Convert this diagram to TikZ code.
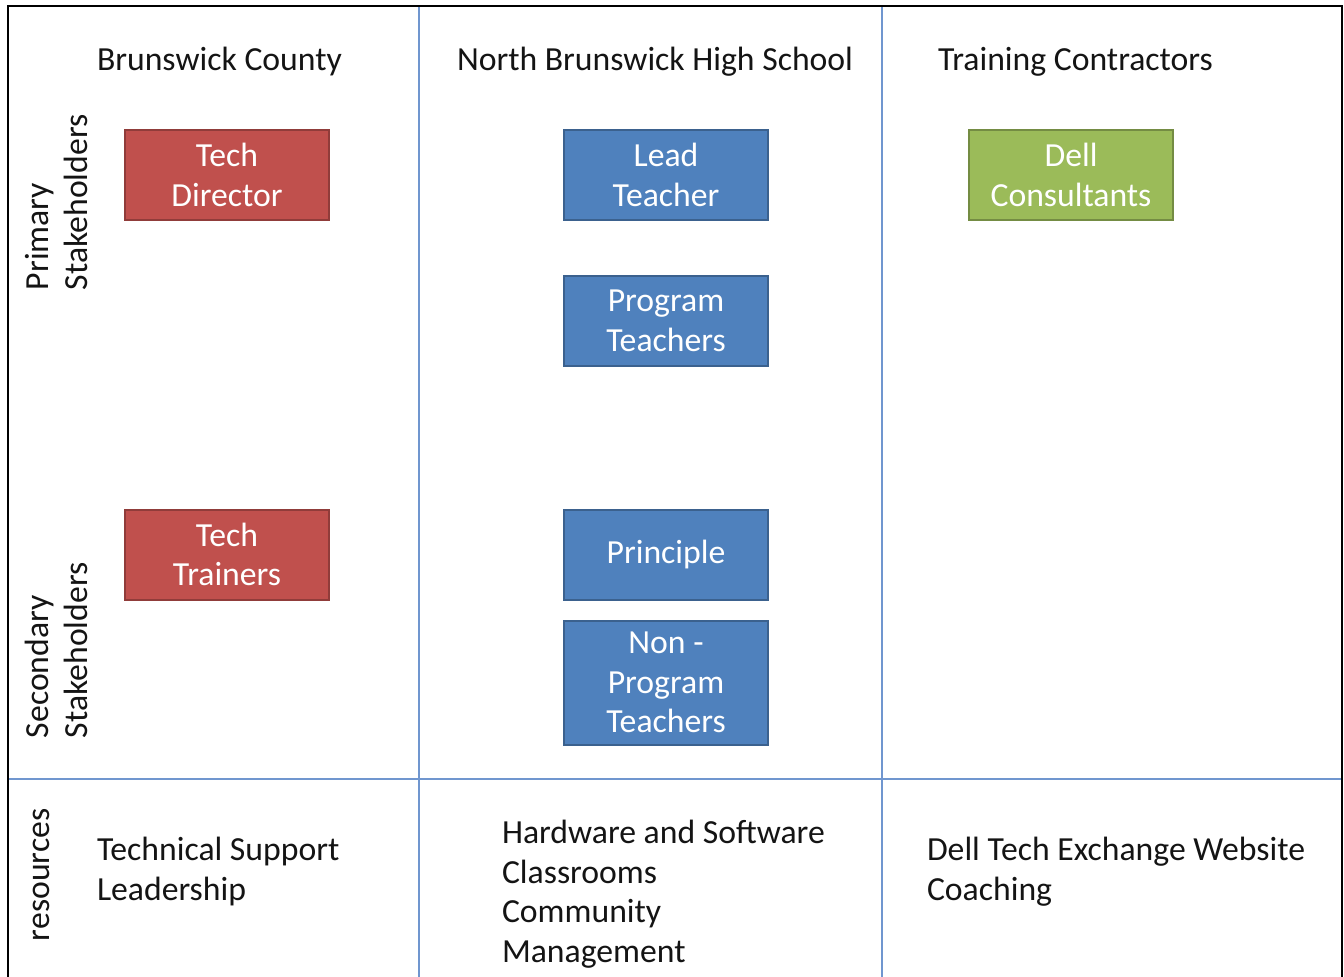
\documentclass[tikz,border=0pt]{standalone}
\usepackage{fontspec}
\setmainfont{Carlito}
\begin{document}
\begin{tikzpicture}[x=1pt,y=-1pt,
  every node/.style={inner sep=0pt, outer sep=0pt, font=\fontsize{33.7}{39.5}\selectfont},
  grid/.style={draw=gridblue, line width=1.6pt},
  frame/.style={draw=black, line width=2pt},
  txt/.style={anchor=base west, text=ink, align=left},
  rowlbl/.style={rotate=90, anchor=south west, text=ink, align=left},
  stake/.style={draw=#1!75!black, line width=2pt, fill=#1, text=white, align=center,
    minimum width=204pt, minimum height=90pt},
]
\definecolor{gridblue}{HTML}{7096CF}
\definecolor{ink}{HTML}{141414}
\definecolor{cred}{HTML}{C0504D}
\definecolor{cblue}{HTML}{4F81BD}
\definecolor{cgreen}{HTML}{9BBB59}

\useasboundingbox (0,0) rectangle (1344,977);
\fill[white] (0,0) rectangle (1344,977);

% table rules
\draw[grid] (419,6) -- (419,977);
\draw[grid] (882,6) -- (882,977);
\draw[grid] (8,779) -- (1342,779);
% outer frame (open at the bottom)
\draw[frame] (8,977) -- (8,6) -- (1342,6) -- (1342,977);

% column headings
\node[txt] (hcounty) at (97,70) {Brunswick County};
\node[txt] (hschool) at (457,70) {North Brunswick High School};
\node[txt] (hcontr) at (938,70) {Training Contractors};

% row labels
\node[rowlbl] (rprim) at (88,290) {Primary\\Stakeholders};
\node[rowlbl] (rsec) at (88,738) {Secondary\\Stakeholders};
\node[rowlbl] (rres) at (50,941) {resources};

% stakeholder boxes
\node[stake=cred] (techdir) at (227,175) {Tech\\Director};
\node[stake=cblue] (lead) at (666,175) {Lead\\Teacher};
\node[stake=cblue] (prog) at (666,321) {Program\\Teachers};
\node[stake=cgreen] (dell) at (1071,175) {Dell\\Consultants};
\node[stake=cred] (trainers) at (227,554.5) {Tech\\Trainers};
\node[stake=cblue] (principle) at (666,554.5) {Principle};
\node[stake=cblue, minimum height=124pt] (nonprog) at (666,682.5) {Non -\\Program\\Teachers};

% resources (anchored at the baseline of the last line)
\node[txt] (rescounty) at (97,900) {Technical Support\\Leadership};
\node[txt] (resschool) at (502,962) {Hardware and Software\\Classrooms\\Community\\Management};
\node[txt] (rescontr) at (927,900) {Dell Tech Exchange Website\\Coaching};
\end{tikzpicture}
\end{document}
